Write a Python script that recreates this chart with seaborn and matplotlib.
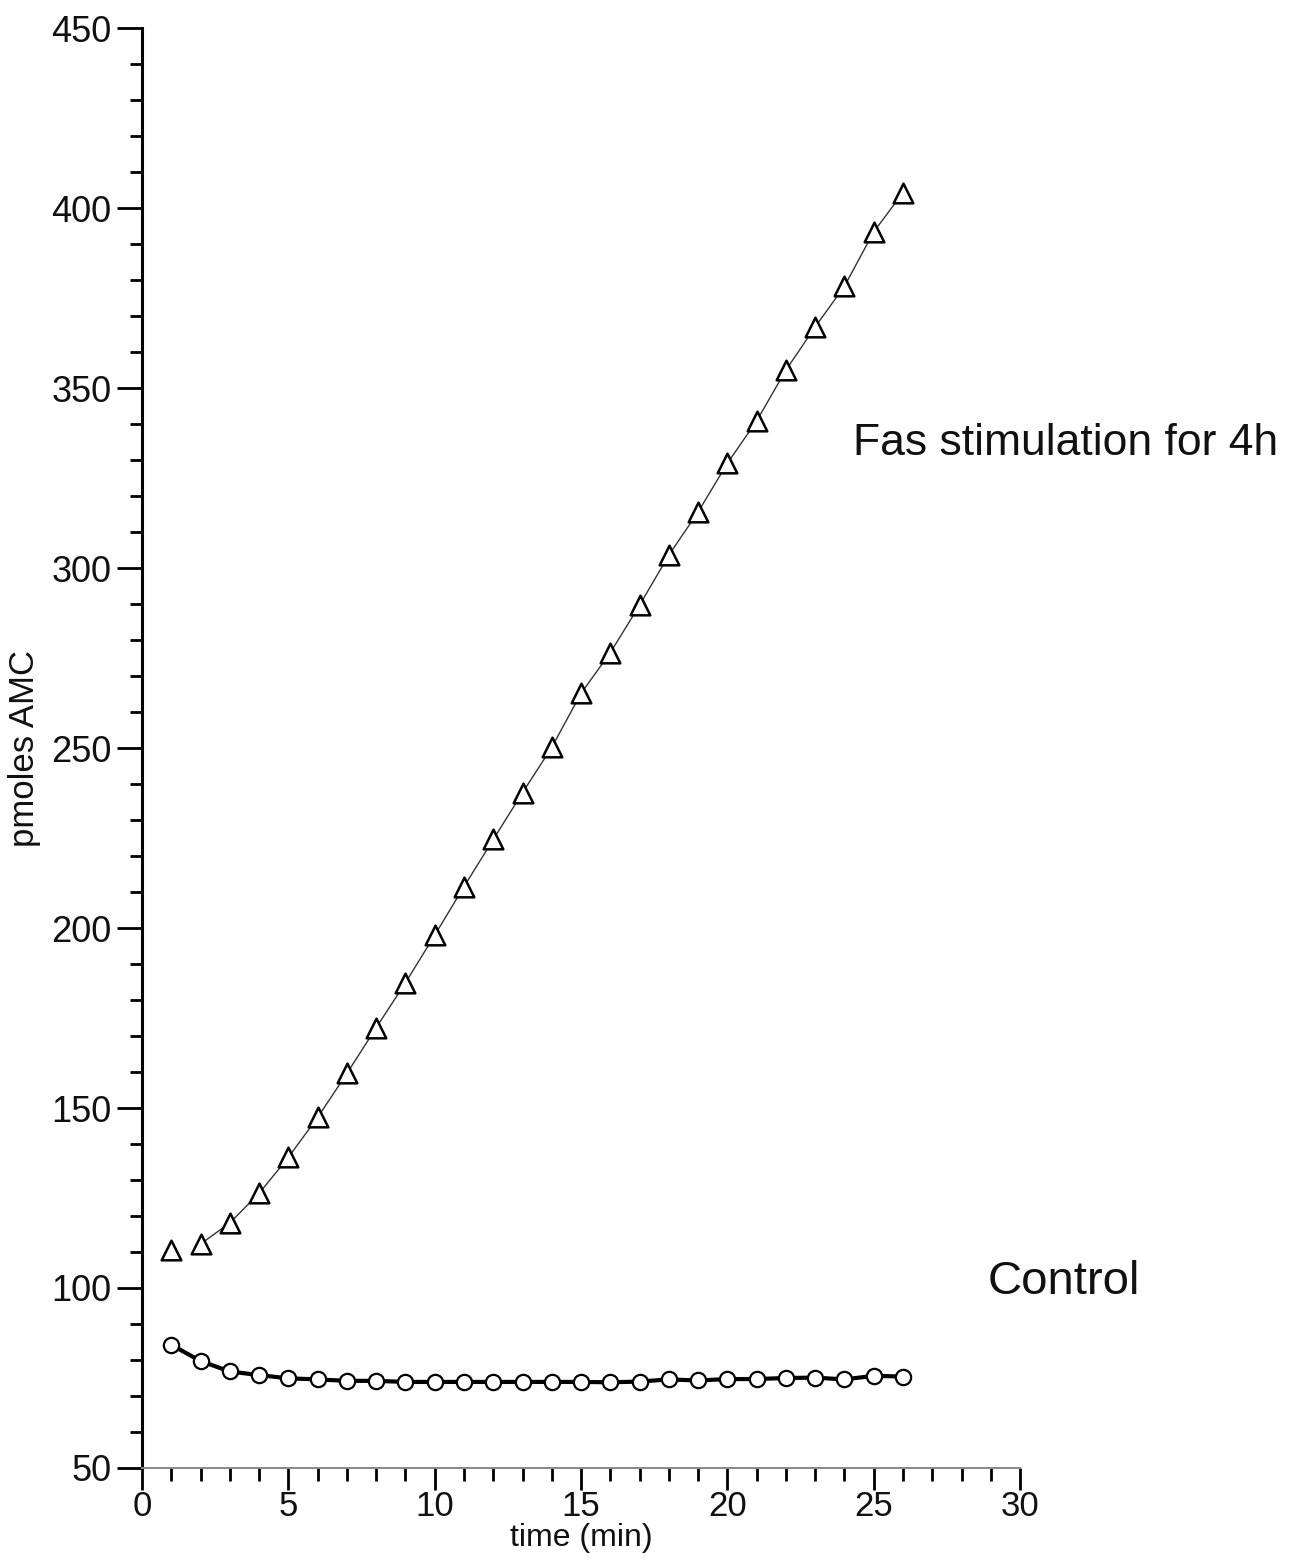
import matplotlib
matplotlib.use("Agg")
import matplotlib.pyplot as plt
import seaborn as sns
import numpy as np
import pandas as pd
from matplotlib.ticker import MultipleLocator

time_min = [1, 2, 3, 4, 5, 6, 7, 8, 9, 10, 11, 12, 13, 14, 15, 16, 17, 18, 19, 20, 21, 22, 23, 24, 25, 26]
fas_4h = [110.5, 112.2, 118.1, 126.3, 136.3, 147.4, 159.6, 172.3, 184.8, 198.0, 211.5, 224.6, 237.6,
          250.2, 265.2, 276.5, 289.7, 303.6, 315.6, 329.1, 340.9, 355.0, 367.0, 378.3, 393.4, 404.3]
control = [84.2, 79.7, 76.8, 75.8, 74.9, 74.6, 74.2, 74.2, 73.9, 73.9, 73.9, 73.9, 73.9,
           73.9, 73.9, 73.8, 74.0, 74.6, 74.3, 74.7, 74.7, 75.0, 75.1, 74.6, 75.6, 75.4]

sns.set_theme(style="ticks")
plt.rcParams['font.family'] = ['Liberation Sans', 'DejaVu Sans']

df = pd.DataFrame({"time": time_min, "fas": fas_4h, "control": control})

fig = plt.figure(figsize=(12.96, 15.62), dpi=100)
ax = fig.add_axes([0.1096, 0.0602, 0.6775, 0.9218])

# Fas line (first point not connected)
sns.lineplot(data=df.iloc[1:], x="time", y="fas", ax=ax, color="#333333", linewidth=1.0,
             zorder=2)
sns.scatterplot(data=df, x="time", y="fas", ax=ax, marker="^", s=200,
                facecolor="white", edgecolor="black", linewidth=1.8, zorder=3)

# Control line
sns.lineplot(data=df, x="time", y="control", ax=ax, color="black", linewidth=3.0,
             marker="o", markersize=11, markerfacecolor="white",
             markeredgecolor="black", markeredgewidth=1.6, zorder=3)

ax.set_xlim(0, 30)
ax.set_ylim(50, 450)
ax.xaxis.set_major_locator(MultipleLocator(5))
ax.xaxis.set_minor_locator(MultipleLocator(1))
ax.yaxis.set_major_locator(MultipleLocator(50))
ax.yaxis.set_minor_locator(MultipleLocator(10))

for s in ["top", "right"]:
    ax.spines[s].set_visible(False)
ax.spines["left"].set_linewidth(2.2)
ax.spines["left"].set_color("black")
ax.spines["bottom"].set_linewidth(1.4)
ax.spines["bottom"].set_color("#888888")

ax.tick_params(axis="both", which="major", direction="out", length=18, width=2,
               color="black", labelsize=26, labelcolor="#111111", pad=4)
ax.tick_params(axis="both", which="minor", direction="out", length=9, width=2,
               color="black")
ax.tick_params(axis="x", which="major", length=16, pad=0, labelsize=25)

ax.set_xlabel("time (min)", fontsize=23, labelpad=0, color="#111111")
ax.set_ylabel("pmoles AMC", fontsize=25, labelpad=7, color="#111111")

ax.text(24.29, 334.5, "Fas stimulation for 4h", fontsize=32, ha="left", va="center",
        color="#111111")
ax.text(31.5, 101.8, "Control", fontsize=34, ha="center", va="center", color="#111111")

fig.savefig("out.png", dpi=100, facecolor="white")
